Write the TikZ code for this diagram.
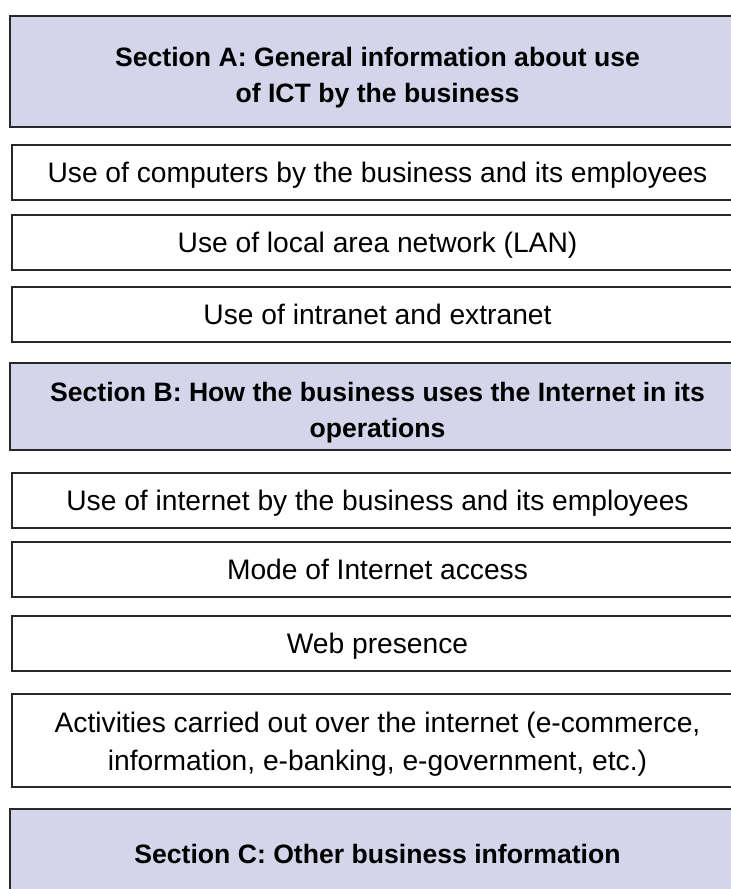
\documentclass[tikz,border=0pt]{standalone}
\usepackage{fontspec}
\setmainfont{Liberation Sans}
\usetikzlibrary{positioning}
\definecolor{secfill}{RGB}{212,212,235}
\definecolor{boxline}{RGB}{40,40,40}

\begin{document}
\begin{tikzpicture}[x=0.5pt,y=0.5pt,
    sec/.style={draw=boxline, line width=1.2pt, fill=secfill, minimum width=367.3pt,
      align=center, inner sep=0pt, text depth=0pt, font=\bfseries\fontsize{13.3}{18}\selectfont},
    item/.style={draw=boxline, line width=1.2pt, fill=white, minimum width=365.3pt,
      minimum height=27.3pt, align=center, inner sep=0pt, text height=10.3pt, text depth=0pt,
      font=\fontsize{14.1}{19}\selectfont},
    node distance=8pt]
\useasboundingbox (0,0) rectangle (731,-889);
\clip (0,0) rectangle (731,-889);
\node[sec, below, minimum height=55.3pt, text height=30.5pt](secA) at (377.5,-15)
  {Section A: General information about use\\of ICT by the business};
\node[item, below=8pt of secA](comp){Use of computers by the business and its employees};
\node[item, below=6.5pt of comp](lan){Use of local area network (LAN)};
\node[item, below=7.5pt of lan](intra){Use of intranet and extranet};
\node[sec, below=9.5pt of intra, minimum height=43.3pt, text height=30.5pt](secB)
  {Section B: How the business uses the Internet in its\\operations};
\node[item, below=10.5pt of secB](inet){Use of internet by the business and its employees};
\node[item, below=6pt of inet](mode){Mode of Internet access};
\node[item, below=8.5pt of mode](web){Web presence};
\node[item, below=10.5pt of web, minimum height=46.3pt, text height=30pt](act)
  {Activities carried out over the internet (e-commerce,\\information, e-banking, e-government, etc.)};
\node[sec, below=10pt of act, minimum height=45pt](secC){Section C: Other business information};
\end{tikzpicture}
\end{document}
